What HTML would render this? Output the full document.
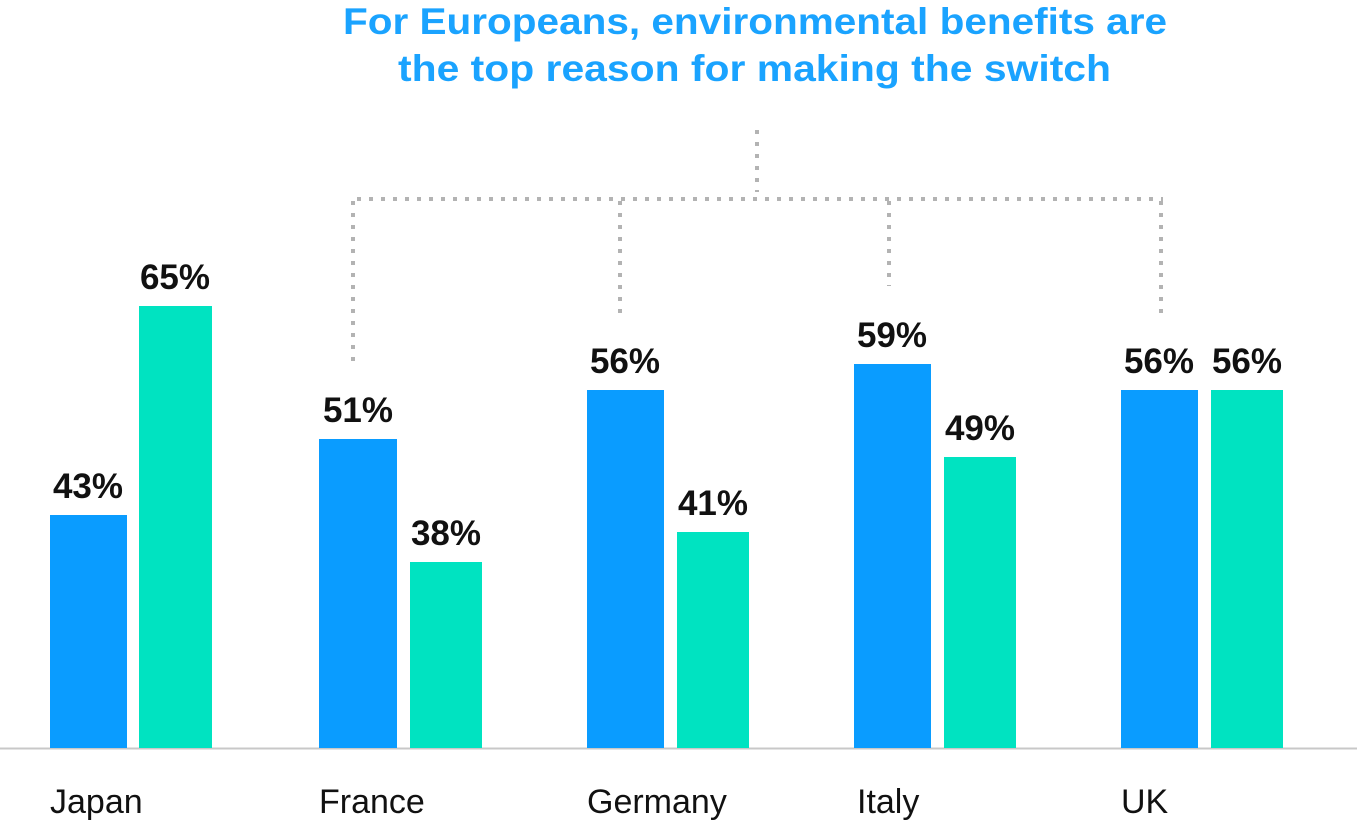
<!DOCTYPE html>
<html><head><style>
body{margin:0;background:#fff;}
svg{display:block}
.v{font-family:"Liberation Sans",sans-serif;font-weight:bold;font-size:35px;fill:#111;text-anchor:middle}
.c{font-family:"Liberation Sans",sans-serif;font-size:34px;fill:#111}
.t{font-family:"Liberation Sans",sans-serif;font-weight:bold;font-size:37px;fill:#1aa3ff}
</style></head><body>
<svg width="1357" height="824" viewBox="0 0 1357 824">
<text class="t" x="343" y="34" textLength="824" lengthAdjust="spacingAndGlyphs">For Europeans, environmental benefits are</text>
<text class="t" x="398" y="81" textLength="713" lengthAdjust="spacingAndGlyphs">the top reason for making the switch</text>
<g stroke="#b3b3b3" stroke-width="4" stroke-dasharray="4 8" fill="none">
<line x1="757" y1="130" x2="757" y2="192"/>
<line x1="357" y1="199" x2="1163" y2="199"/>
<line x1="353" y1="201" x2="353" y2="362"/>
<line x1="620" y1="201" x2="620" y2="320"/>
<line x1="889" y1="201" x2="889" y2="286"/>
<line x1="1161" y1="201" x2="1161" y2="320"/>
</g>
<line x1="0" y1="748.5" x2="1357" y2="748.5" stroke="#c8c8c8" stroke-width="2"/>
<g fill="#0a9cff">
<rect x="50" y="515" width="77" height="233"/>
<rect x="319" y="439" width="78" height="309"/>
<rect x="587" y="390" width="77" height="358"/>
<rect x="854" y="364" width="77" height="384"/>
<rect x="1121" y="390" width="77" height="358"/>
</g>
<g fill="#00e3c1">
<rect x="139" y="306" width="73" height="442"/>
<rect x="410" y="562" width="72" height="186"/>
<rect x="677" y="532" width="72" height="216"/>
<rect x="944" y="457" width="72" height="291"/>
<rect x="1211" y="390" width="72" height="358"/>
</g>
<text class="v" x="88" y="498">43%</text>
<text class="v" x="175" y="289">65%</text>
<text class="v" x="358" y="422">51%</text>
<text class="v" x="446" y="545">38%</text>
<text class="v" x="625" y="373">56%</text>
<text class="v" x="713" y="515">41%</text>
<text class="v" x="892" y="347">59%</text>
<text class="v" x="980" y="440">49%</text>
<text class="v" x="1159" y="373">56%</text>
<text class="v" x="1247" y="373">56%</text>
<text class="c" x="50" y="813">Japan</text>
<text class="c" x="319" y="813">France</text>
<text class="c" x="587" y="813">Germany</text>
<text class="c" x="857" y="813">Italy</text>
<text class="c" x="1121" y="813">UK</text>
</svg>
</body></html>
